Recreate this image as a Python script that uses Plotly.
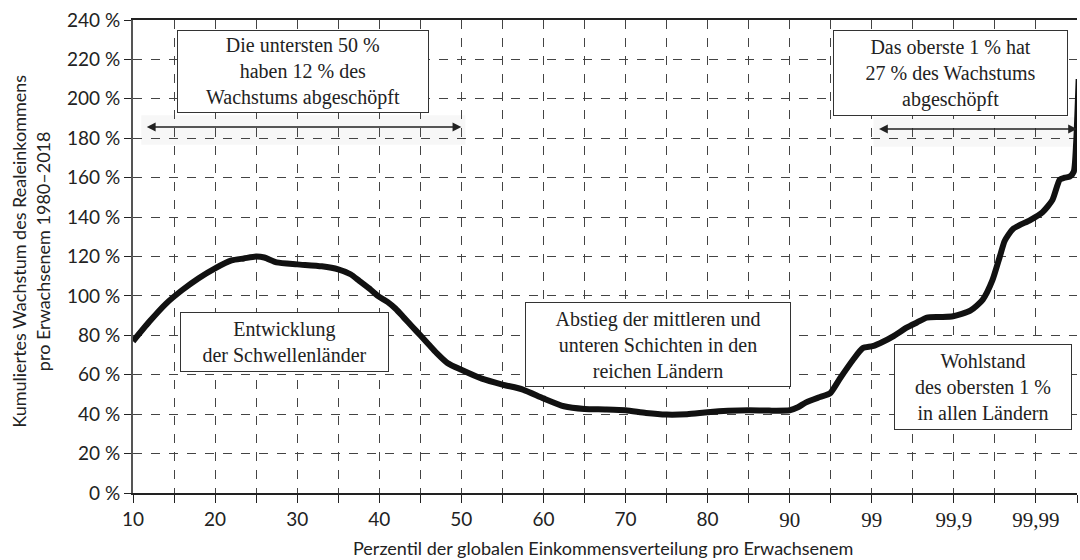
import plotly.graph_objects as go

# x positions on the chart's percentile scale (10..90 linear, then 99 -> 100, 99.9 -> 110, 99.99 -> 120)
pos = [10, 12, 14, 16, 18, 20, 22, 23.5, 25, 26, 27.5, 30, 33, 35, 36.5, 37.6, 39, 40, 41, 42, 43, 44, 45, 46, 47,
       48.3, 50, 52.5, 55, 57.5, 60, 62.5, 65, 67.5, 70, 72.5, 75, 77.5, 80, 82.5, 85, 87.5, 90, 91, 92, 93.7,
       94.9, 96.1, 97.7, 98.9, 100.1, 101.3, 102.6, 104.3, 105.5, 106.7, 108.3, 109.9, 112, 113.5, 114.7, 115.6,
       116.2, 117.2, 119.3, 120.8, 122, 122.9, 123.5, 124.1, 124.6, 124.9, 125.2]
growth = [77, 87, 96, 103, 109, 114, 118, 119, 120, 119.5, 117, 116, 115, 113.5, 111, 107.5, 103, 99.5, 97, 93.5, 89,
          84.5, 80, 75.5, 71, 66, 62.5, 58, 55, 52.5, 48, 44, 42.6, 42.4, 42, 40.6, 39.8, 40, 41, 41.7, 42, 41.8, 42,
          43.5, 46, 48.7, 50.5, 58, 67.5, 73.5, 74.5, 76.6, 79.5, 84, 86.5, 89, 89.3, 89.7, 92.5, 98, 108, 120,
          128, 134, 138.5, 142.5, 148.6, 159, 160, 160.5, 163, 178, 210]

tick_pos = [10, 15, 20, 25, 30, 35, 40, 45, 50, 55, 60, 65, 70, 75, 80, 85, 90, 95, 100, 105, 110, 115, 120, 125]
tick_lab = ["10", "", "20", "", "30", "", "40", "", "50", "", "60", "", "70", "", "80", "", "", "", "", "",
            "", "", "", ""]
top_tick_pos = [90, 100, 110, 120]
top_tick_lab = ["90", "99", "99,9", "99,99"]
y_ticks = list(range(0, 241, 20))
y_labels = [f"{v} %" for v in y_ticks]

SERIF = "Liberation Serif, DejaVu Serif, serif"
SANS = "Lato, Noto Sans, sans-serif"

fig = go.Figure()
# invisible carrier trace for the serif tick-label axis
fig.add_trace(go.Scatter(x=pos, y=growth, xaxis="x2", mode="lines", line=dict(width=0, color="rgba(0,0,0,0)"),
                         hoverinfo="skip", showlegend=False))
fig.add_trace(go.Scatter(x=pos, y=growth, mode="lines",
                         line=dict(color="#111111", width=6, shape="spline", smoothing=0.6),
                         hoverinfo="skip", showlegend=False, cliponaxis=True))

boxes = [
    ("Die untersten 50 %<br>haben 12 % des<br>Wachstums abgeschöpft", 30.7, 213.9, 246, 77),
    ("Das oberste 1 % hat<br>27 % des Wachstums<br>abgeschöpft", 109.6, 213, 229, 80),
    ("Entwicklung<br>der Schwellenländer", 28.4, 76.6, 203, 54),
    ("Abstieg der mittleren und<br>unteren Schichten in den<br>reichen Ländern", 73.9, 75.6, 260, 79),
    ("Wohlstand<br>des obersten 1 %<br>in allen Ländern", 113.5, 53.8, 172, 80),
]
for txt, x, y, w, h in boxes:
    fig.add_annotation(x=x, y=y, xref="x", yref="y", text=txt, showarrow=False,
                       font=dict(family=SERIF, size=20, color="#222222"),
                       bgcolor="white", bordercolor="#333333", borderwidth=1, borderpad=2,
                       width=w, height=h, align="center", valign="middle")

# double-headed arrows with faint shadow
for x0, x1, yv in [(11.5, 50, 185.7), (100.7, 125, 184.7)]:
    fig.add_shape(type="rect", x0=x0 - 0.5, x1=x1 + 0.5, y0=yv - 9, y1=yv + 6, xref="x", yref="y",
                  fillcolor="rgba(0,0,0,0.03)", line=dict(width=0), layer="below")
    fig.add_annotation(x=x1, y=yv, ax=x0, ay=yv, xref="x", yref="y", axref="x", ayref="y",
                       text="", showarrow=True, arrowside="end+start", arrowhead=2, startarrowhead=2,
                       arrowsize=1.1, startarrowsize=1.1, arrowwidth=1.6, arrowcolor="#222222")

fig.add_annotation(x=-0.108, y=0.51, xref="paper", yref="paper", textangle=-90, showarrow=False,
                   text="Kumuliertes Wachstum des Realeinkommens<br>pro Erwachsenem 1980–2018",
                   font=dict(family=SANS, size=18, color="#222222"), xanchor="center", yanchor="middle")
fig.add_annotation(x=0.498, y=-0.116, xref="paper", yref="paper", showarrow=False,
                   text="Perzentil der globalen Einkommensverteilung pro Erwachsenem",
                   font=dict(family=SANS, size=18, color="#222222"), xanchor="center", yanchor="middle")

fig.update_layout(
    width=1080, height=560,
    margin=dict(l=133, r=3, t=20, b=67, autoexpand=False),
    paper_bgcolor="white", plot_bgcolor="white",
    xaxis=dict(range=[10, 125], tickmode="array", tickvals=tick_pos, ticktext=tick_lab,
               showgrid=True, gridcolor="#444444", griddash="dash", gridwidth=1,
               showline=True, linecolor="#222222", linewidth=1.5, mirror=True,
               ticks="outside", ticklen=8, tickcolor="#222222", tickwidth=1, automargin=False,
               tickfont=dict(family=SANS, size=19, color="#222222"), zeroline=False),
    xaxis2=dict(range=[10, 125], overlaying="x", side="bottom", anchor="y", tickmode="array",
                tickvals=top_tick_pos, ticktext=top_tick_lab, showgrid=False, showline=False,
                ticks="outside", ticklen=8, tickcolor="rgba(0,0,0,0)", automargin=False, zeroline=False,
                tickfont=dict(family=SERIF, size=21, color="#222222")),
    yaxis=dict(range=[0, 240], tickmode="array", tickvals=y_ticks, ticktext=y_labels,
               showgrid=True, gridcolor="#444444", griddash="dash", gridwidth=1,
               showline=True, linecolor="#555555", linewidth=2, automargin=False,
               ticks="outside", ticklen=7, tickcolor="#222222", tickwidth=1,
               tickfont=dict(family=SANS, size=19, color="#222222"), zeroline=False),
)

fig.write_html("out.html", config={"displayModeBar": False},
               post_script="document.body.style.margin='0px';")
